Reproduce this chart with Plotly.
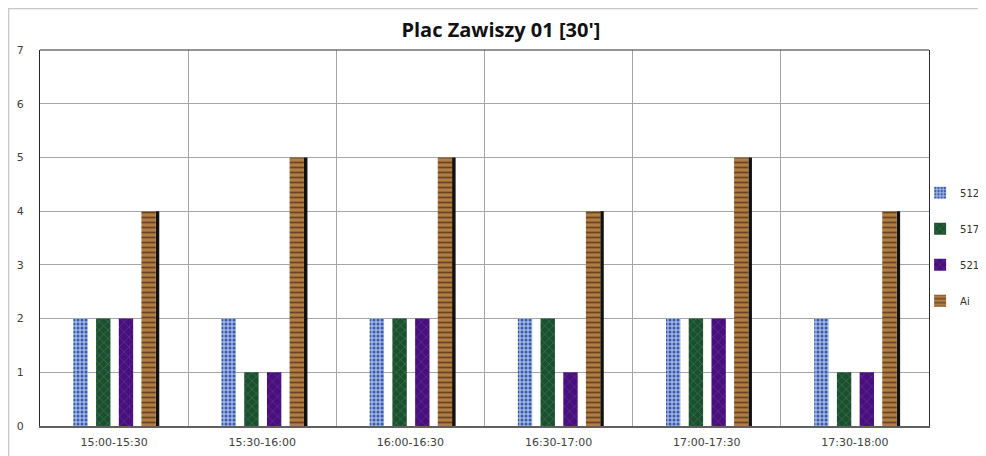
import plotly.graph_objects as go

categories = ["15:00-15:30", "15:30-16:00", "16:00-16:30", "16:30-17:00", "17:00-17:30", "17:30-18:00"]
s512 = [2, 2, 2, 2, 2, 2]
s517 = [2, 1, 2, 2, 2, 1]
s521 = [2, 1, 2, 1, 2, 1]
sAi = [4, 5, 5, 4, 5, 4]
y_ticks = [0, 1, 2, 3, 4, 5, 6, 7]

W = 0.097
fig = go.Figure()

series = [
    ("512", s512, -0.275, dict(color="#8ea7dc", pattern=dict(shape=".", fgcolor="#3b5aa6", bgcolor="#9fb6e6", size=4, solidity=0.45, fillmode="replace"))),
    ("517", s517, -0.1216, dict(color="#1f5a34", pattern=dict(shape="x", fgcolor="#3f7d55", bgcolor="#1c4f2e", size=6, solidity=0.2, fillmode="replace"))),
    ("521", s521, 0.0318, dict(color="#4d1080", pattern=dict(shape="x", fgcolor="#6a2aa0", bgcolor="#47107a", size=7, solidity=0.2, fillmode="replace"))),
    ("Ai", sAi, 0.1845, dict(color="#a8763f", pattern=dict(shape="-", fgcolor="#6b4420", bgcolor="#b07d45", size=5, solidity=0.35, fillmode="replace"))),
]

# shadow for Ai bars
fig.add_trace(go.Bar(
    x=categories, y=sAi, offset=0.281, width=0.024,
    marker=dict(color="#111111", line=dict(width=0)),
    showlegend=False, hoverinfo="skip", name="Ai shadow",
))

for name, vals, off, marker in series:
    marker["line"] = dict(width=0)
    fig.add_trace(go.Bar(
        x=categories, y=vals, name=name, offset=off, width=W,
        marker=marker, legendgroup=name,
    ))

fig.update_layout(
    width=978, height=448,
    barmode="overlay",
    paper_bgcolor="white", plot_bgcolor="white",
    margin=dict(l=32, r=57, t=42, b=30, autoexpand=False),
    title=dict(
        text="<b>Plac Zawiszy 01 [30']</b>",
        x=0.504, xref="container", xanchor="center",
        y=1 - 22 / 448, yref="container", yanchor="middle",
        font=dict(family="Open Sans", size=20, color="#111111"),
    ),
    font=dict(family="DejaVu Sans", size=10, color="#404040"),
    legend=dict(
        x=0.990, xanchor="left", y=0.477, yanchor="middle",
        font=dict(family="DejaVu Sans", size=10, color="#303030"),
        tracegroupgap=17, bgcolor="rgba(0,0,0,0)",
        itemclick=False, itemdoubleclick=False,
    ),
    xaxis=dict(
        type="category", tickson="boundaries", showgrid=True,
        gridcolor="#a6a6a6", gridwidth=1,
        showline=True, linecolor="#606060", linewidth=1.5, mirror=False,
        ticks="", tickfont=dict(size=11, color="#404040"),
        ticklabelstandoff=5,
    ),
    yaxis=dict(
        range=[0, 7], tickvals=y_ticks, showgrid=True,
        gridcolor="#a6a6a6", gridwidth=1, zeroline=False,
        showline=True, linecolor="#2a2a2a", linewidth=1.2, mirror=True,
        ticks="", tickfont=dict(size=11, color="#404040"),
        ticklabelstandoff=13,
    ),
    shapes=[
        dict(type="line", xref="paper", yref="paper", x0=0, x1=1, y0=1, y1=1,
             line=dict(color="#2a2a2a", width=1.2)),
        dict(type="rect", xref="paper", yref="paper",
             x0=-0.0354, x1=1.2, y0=-0.3, y1=1 + 41.5 / 376,
             line=dict(color="#c8c8c8", width=1.5)),
    ],
)

fig.write_html("out.html")
